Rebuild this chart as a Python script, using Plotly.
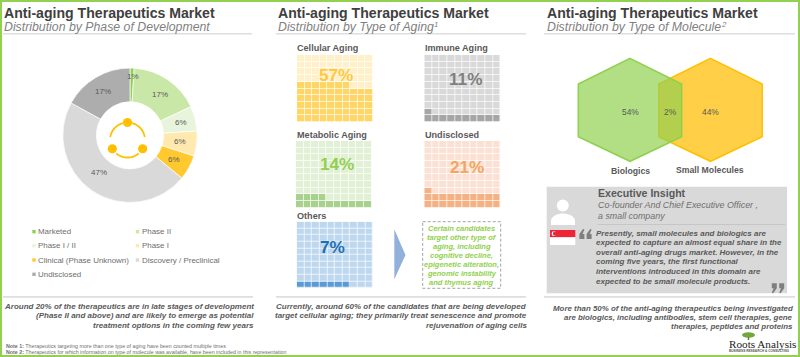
import numpy as np
import plotly.graph_objects as go

W, H = 800, 357
FONT = "Liberation Sans"
GREY = "#595959"

# ---- data ----
phase_labels = ["Marketed", "Phase II", "Phase I / II", "Phase I",
                "Clinical (Phase Unknown)", "Discovery / Preclinical", "Undisclosed"]
phase_values = [1, 17, 6, 6, 6, 47, 17]
phase_colors = ["#8ED14F", "#C9E7A6", "#E9F4DD", "#FFE9AE", "#FFC92F", "#D9D9D9", "#ADADAD"]

aging_names = ["Cellular Aging", "Immune Aging", "Metabolic Aging", "Undisclosed", "Others"]
aging_values = [57, 11, 14, 21, 7]
aging_light = ["#FFF0C9", "#D9D9D9", "#E2F0D6", "#FBE1D4", "#BDD7EE"]
aging_dark = ["#FFD566", "#A6A6A6", "#A9D18E", "#F4B183", "#5B9BD5"]
aging_text = ["#FFC83D", "#7F7F7F", "#92D050", "#F4A561", "#1F6FB4"]

molecule_labels = ["Biologics", "Both", "Small Molecules"]
molecule_values = [54, 2, 44]

# ---- helpers ----
ann, shapes = [], []


def txt(x, y, s, size, color=GREY, anchor="left", bold=False, italic=False, family=FONT):
    ann.append(dict(x=x / W, y=1 - y / H, xref="paper", yref="paper", text=s, showarrow=False,
                    xanchor=anchor, yanchor="middle", align=anchor, borderpad=0, borderwidth=0,
                    font=dict(family=family, size=size, color=color,
                              weight="bold" if bold else "normal",
                              style="italic" if italic else "normal")))


def poly(pts, fill=None, line=None, lw=0, dash=None, close=True, layer="above"):
    d = "M " + " L ".join(f"{x / W:.5f},{1 - y / H:.5f}" for x, y in pts) + (" Z" if close else "")
    shapes.append(dict(type="path", path=d, xref="paper", yref="paper", layer=layer,
                       fillcolor=fill or "rgba(0,0,0,0)",
                       line=dict(color=line or "rgba(0,0,0,0)", width=lw, dash=dash or "solid")))


def rect(x0, y0, x1, y1, fill=None, line=None, lw=0, dash=None, layer="above"):
    shapes.append(dict(type="rect", xref="paper", yref="paper", layer=layer,
                       x0=x0 / W, x1=x1 / W, y0=1 - y0 / H, y1=1 - y1 / H,
                       fillcolor=fill or "rgba(0,0,0,0)",
                       line=dict(color=line or "rgba(0,0,0,0)", width=lw, dash=dash or "solid")))


def circle(cx, cy, r, fill, rx=None):
    rx = r if rx is None else rx
    shapes.append(dict(type="circle", xref="paper", yref="paper",
                       x0=(cx - rx) / W, x1=(cx + rx) / W, y0=1 - (cy + r) / H, y1=1 - (cy - r) / H,
                       fillcolor=fill, line=dict(width=0)))


def arc(cx, cy, r, a0, a1, color, lw):
    t = np.radians(np.linspace(a0, a1, 24))
    poly(list(zip(cx + r * np.cos(t), cy + r * np.sin(t))), line=color, lw=lw, close=False)


def quote_block(x, y, flip=False, color="#7F7F7F"):
    base = [(0, 10), (5, 10), (5, 5), (3.2, 5), (5, 0.6), (3.6, 0), (0, 5)]
    if flip:
        base = [(5 - a, 10 - b) for a, b in base]
    poly([(x + a, y + b) for a, b in base], fill=color)


fig = go.Figure()

# ---- frame ----
rect(1, 1, 799, 356, line="#92D050", lw=2)

# ---- panel headers ----
for x, xl, xr, sub in [(4, 3, 252, "Distribution by Phase of Development"),
                       (278, 276, 526, "Distribution by Type of Aging"),
                       (547, 544, 795, "Distribution by Type of Molecule")]:
    txt(x, 13, "Anti-aging Therapeutics Market", 14.1, "#404040", bold=True)
    txt(x, 27, sub, 12.3, "#7F7F7F", italic=True)
    rect(xl, 33, xr, 34.5, fill="#DEDEDE")
txt(433.8, 24.6, "1", 7.8, "#7F7F7F", italic=True)
txt(720.5, 24.6, "2", 7.8, "#7F7F7F", italic=True)
for xl, xr in [(3, 253), (276, 526), (544, 795)]:
    rect(xl, 296, xr, 297.7, fill="#DEDEDE")

# ---- donut ----
cx, cy, r = 130, 135.3, 67.2
fig.add_trace(go.Pie(labels=phase_labels, values=phase_values, sort=False, direction="clockwise",
                     rotation=0, hole=0.5, marker=dict(colors=phase_colors, line=dict(color="white", width=0.7)),
                     textinfo="none", showlegend=False, hoverinfo="label+value",
                     domain=dict(x=[(cx - r) / W, (cx + r) / W], y=[1 - (cy + r) / H, 1 - (cy - r) / H])))
donut_label_pos = [(132.5, 76.5), (160, 95), (181, 122), (180, 142), (174, 159.5), (99, 172), (103, 91)]
for (lx, ly), v in zip(donut_label_pos, phase_values):
    txt(lx, ly, f"{v}%", 8, anchor="center")

# centre icon
ic, jc, rc = 127.5, 140, 17.5
for a0, a1 in [(-75, -10), (50, 130), (190, 255)]:
    arc(ic, jc, rc, a0, a1, "#FFC000", 1.8)
for a in (-90, 30, 150):
    circle(ic + rc * np.cos(np.radians(a)), jc + rc * np.sin(np.radians(a)), 4.6, "#FFC000")

# legend
leg_y = [231.7, 245.7, 260, 274.3]
for i, lab in enumerate(phase_labels):
    row, col = i // 2, i % 2
    mx = 34 if col == 0 else 137.5
    rect(mx - 1.7, leg_y[row] - 1.7, mx + 1.7, leg_y[row] + 1.7, fill=phase_colors[i])
    txt(mx + 4.3, leg_y[row], lab, 7.95, "#6E6E6E")

for y, s in zip([306, 315.3, 325], ["Around 20% of the therapeutics are in late stages of development",
                                    "(Phase II and above) and are likely to emerge as potential",
                                    "treatment options in the coming few years"]):
    txt(254, y, s, 8, GREY, anchor="right", bold=True, italic=True)

txt(6, 345.7, "<b>Note 1:</b> Therapeutics targeting more than one type of aging have been counted multiple times", 5.3, "#6E6E6E")
txt(6, 352, "<b>Note 2:</b> Therapeutics for which information on type of molecule was available, have been included in this representation", 5.3, "#6E6E6E")

# ---- waffles ----
boxes = [(297, 55, 373, 122), (424.3, 55, 500.7, 122), (296, 141, 371.5, 207.7),
         (424.3, 141, 500.7, 207.7), (296.7, 221.7, 373, 288)]
head_pos = [(297, 48.5), (424.5, 48.5), (297, 135), (424.5, 135), (297, 216)]
pct_pos = [(335.5, 75), (465, 79), (336.7, 164), (467, 167), (332.7, 246.7)]
layout_axes = {}
for i, (name, val) in enumerate(zip(aging_names, aging_values)):
    z = (np.arange(100).reshape(10, 10) < val).astype(int)
    k = i + 1
    xa, ya = f"x{k}", f"y{k}"
    fig.add_trace(go.Heatmap(z=z, xaxis=xa, yaxis=ya, xgap=0.7, ygap=0.7, zmin=0, zmax=1, showscale=False,
                             colorscale=[[0, aging_light[i]], [1, aging_dark[i]]], name=name,
                             hoverinfo="skip"))
    x0, y0, x1, y1 = boxes[i]
    layout_axes[f"xaxis{k}"] = dict(domain=[x0 / W, x1 / W], range=[-0.5, 9.5], visible=False, anchor=ya)
    layout_axes[f"yaxis{k}"] = dict(domain=[1 - y1 / H, 1 - y0 / H], range=[-0.5, 9.5], visible=False, anchor=xa)
    txt(*head_pos[i], name, 9.1, GREY, bold=True)
    txt(*pct_pos[i], f"{val}%", 17.2, aging_text[i], anchor="center", bold=True)

# arrow and call-out
poly([(394.3, 229.3), (405.5, 255), (394.3, 279.3)], fill="#92B1DA")
rect(422.7, 221.7, 500.7, 288.3, line="#8C8C8C", lw=0.8, dash="3px,2px")
for y, s in zip(np.arange(228.7, 283, 9), ["Certain candidates", "target other type of", "aging, including",
                                           "cognitive decline,", "epigenetic alteration,",
                                           "genomic instability", "and thymus aging"]):
    txt(461.7, y, s, 7.5, "#92D050", anchor="center", bold=True, italic=True)

for y, s in zip([306, 315.7, 325], ["Currently, around 60% of the candidates that are being developed",
                                    "target cellular aging; they primarily treat senescence and promote",
                                    "rejuvenation of aging cells"]):
    txt(526.7, y, s, 8, GREY, anchor="right", bold=True, italic=True)

# ---- venn ----
def hexagon(xc):
    return [(xc, 58.3), (xc + 51.7, 84), (xc + 51.7, 136.7), (xc, 161.3), (xc - 51.7, 136.7), (xc - 51.7, 84)]


poly(hexagon(710.5), fill="#FFCF47", line="#FFC000", lw=1.5)
poly(hexagon(630), fill="rgba(146,208,80,0.7)", line="#8ED14F", lw=1.5)
for x, v in zip([630, 670, 710.5], molecule_values):
    txt(x, 111.7, f"{v}%", 8.4, GREY, anchor="center")
txt(630, 171, molecule_labels[0], 8.7, GREY, anchor="center", bold=True)
txt(710, 170.3, molecule_labels[2], 8.7, GREY, anchor="center", bold=True)

# ---- executive insight ----
rect(546.7, 186.7, 787, 293.3, fill="#D9D9D9")
txt(597.5, 192.7, "Executive Insight", 10.6, GREY, bold=True)
txt(597.5, 205.5, "Co-founder And Chief Executive Officer ,", 8.9, "#6E6E6E", italic=True)
txt(597.5, 216.3, "a small company", 8.9, "#6E6E6E", italic=True)
rect(597.5, 224, 785, 224.8, fill="#BFBFBF")
# person
circle(562.8, 205.5, 6, "white")
t = np.radians(np.linspace(180, 360, 20))
poly([(551, 225)] + list(zip(563 + 12 * np.cos(t), 221 + 7.5 * np.sin(t))) + [(575, 225)], fill="white")
# flag
rect(550, 230, 575.3, 237.3, fill="#EE2536")
rect(550, 237.3, 575.3, 245, fill="white")
circle(554, 233.7, 2.4, "white")
circle(555, 233.7, 2.1, "#EE2536")
# quote marks
quote_block(579.4, 229)
quote_block(586.6, 229)
quote_block(771.8, 283.3, flip=True)
quote_block(779.2, 283.3, flip=True)
for y, s in zip([233.3, 242.7, 252, 261.7, 271, 281],
                ["Presently, small molecules and biologics are",
                 "expected to capture an almost equal share in the",
                 "overall anti-aging drugs market. However, in the",
                 "coming five years, the first functional",
                 "interventions introduced in this domain are",
                 "expected to be small molecule products."]):
    txt(595.7, y, s, 8, GREY, bold=True, italic=True)

for y, s in zip([308, 317.5, 326.7], ["More than 50% of the anti-aging therapeutics being investigated",
                                      "are biologics, including antibodies, stem cell therapies, gene",
                                      "therapies, peptides and proteins"]):
    txt(793.3, y, s, 7.9, GREY, anchor="right", bold=True, italic=True)

# ---- logo ----
circle(748.5, 335, 2.8, "#6FA83B", rx=6.5)
rect(747.8, 337, 749.2, 340, fill="#7A6A3A")
txt(729, 343.5, "Roots Analysis", 11.2, "#222222", family="Liberation Serif")
txt(729, 351.3, "BUSINESS RESEARCH & CONSULTING", 3.2, "#555555", bold=True)

fig.update_layout(width=W, height=H, margin=dict(l=0, r=0, t=0, b=0), paper_bgcolor="white",
                  plot_bgcolor="white", showlegend=False, annotations=ann, shapes=shapes,
                  font=dict(family=FONT), **layout_axes)
fig.write_html("out.html", config=dict(displayModeBar=False),
               post_script="document.body.style.margin='0';document.documentElement.style.overflow='hidden';")
